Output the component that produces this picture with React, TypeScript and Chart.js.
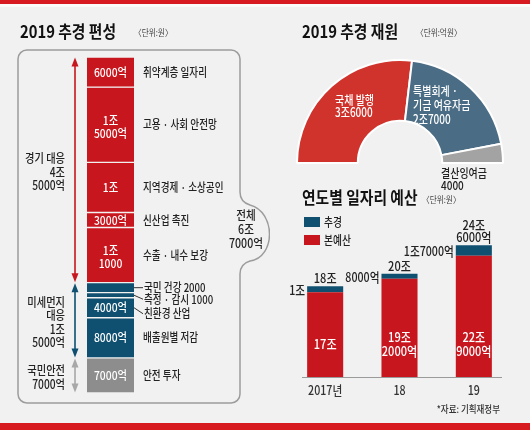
import React, { useEffect, useRef } from 'react';
import { Chart, registerables } from 'chart.js';
Chart.register(...registerables);

const BG = '#f1f1f1';
const RED = '#c8161e';
const BLUE = '#0f5070';
const GRAY = '#8d8d8d';
const FONT = '"Noto Sans CJK KR", "Noto Sans", sans-serif';

// ---- 2019 추경 편성 (억원) ----
const segmentNames = ['취약계층 일자리', '고용 · 사회 안전망', '지역경제 · 소상공인', '신산업 촉진', '수출 · 내수 보강', '국민 건강 2000', '측정 · 감시 1000', '친환경 산업', '배출원별 저감', '안전 투자'];
const segmentValues = [6000, 15000, 10000, 3000, 11000, 2000, 1000, 4000, 8000, 7000];
const segmentGroups = [0, 0, 0, 0, 0, 1, 1, 1, 1, 2];
const segmentInnerLabels = ['6000억', '1조\n5000억', '1조', '3000억', '1조\n1000', '', '', '4000억', '8000억', '7000억'];
const segmentLeaderDy = [null, null, null, null, null, 0, 4, 6, null, null];
const groupNames = ['경기 대응\n4조\n5000억', '미세먼지\n대응\n1조\n5000억', '국민안전\n7000억'];
const groupColors = [RED, BLUE, GRAY];
const groupArrowColors = [RED, BLUE, '#a8a8a8'];
const totalLabel = '전체\n6조\n7000억';
const totalValue = 67000;

// ---- 2019 추경 재원 (억원) ----
const sourceNames = ['국채 발행', '특별회계 · 기금 여유자금', '결산잉여금'];
const sourceValues = [36000, 27000, 4000];
const sourceLabels = ['국채 발행\n3조6000', '특별회계 ·\n기금 여유자금\n2조7000', '결산잉여금\n4000'];
const sourceColors = ['#d0332c', '#4a6c84', '#a3a3a3'];

// ---- 연도별 일자리 예산 (조원) ----
const years = ['2017년', '18', '19'];
const baseBudget = [17, 19.2, 22.9];
const supplementary = [1, 0.8, 1.7];
const baseLabels = ['17조', '19조\n2000억', '22조\n9000억'];
const suppLabels = ['1조', '8000억', '1조7000억'];
const totalLabels = ['18조', '20조', '24조\n6000억'];

type TO = { size?: number; weight?: string; color?: string; align?: CanvasTextAlign; sx?: number; lh?: number };
function txt(ctx: CanvasRenderingContext2D, s: string, x: number, y: number, o: TO = {}) {
  const size = o.size ?? 12;
  const lh = o.lh ?? size * 1.12;
  const lines = s.split('\n');
  ctx.save();
  ctx.font = `${o.weight ?? '500'} ${size}px ${FONT}`;
  ctx.fillStyle = o.color ?? '#222';
  ctx.textAlign = o.align ?? 'left';
  ctx.textBaseline = 'middle';
  const y0 = y - ((lines.length - 1) * lh) / 2;
  lines.forEach((l, i) => {
    ctx.save();
    ctx.translate(x, y0 + i * lh);
    ctx.scale(o.sx ?? 0.82, 1);
    ctx.fillText(l, 0, 0);
    ctx.restore();
  });
  ctx.restore();
}

function arrow(ctx: CanvasRenderingContext2D, x: number, y1: number, y2: number, color: string) {
  ctx.save();
  ctx.strokeStyle = color;
  ctx.fillStyle = color;
  ctx.lineWidth = 1.6;
  ctx.beginPath();
  ctx.moveTo(x, y1 + 6);
  ctx.lineTo(x, y2 - 6);
  ctx.stroke();
  ctx.beginPath();
  ctx.moveTo(x, y1);
  ctx.lineTo(x - 3.5, y1 + 9);
  ctx.lineTo(x + 3.5, y1 + 9);
  ctx.closePath();
  ctx.fill();
  ctx.beginPath();
  ctx.moveTo(x, y2);
  ctx.lineTo(x - 3.5, y2 - 9);
  ctx.lineTo(x + 3.5, y2 - 9);
  ctx.closePath();
  ctx.fill();
  ctx.restore();
}

const leftPlugin = {
  id: 'leftDeco',
  beforeDraw(chart: any) {
    const ctx = chart.ctx as CanvasRenderingContext2D;
    ctx.save();
    ctx.strokeStyle = '#9c9c9c';
    ctx.lineWidth = 1.5;
    const L = 18, T = 50, R = 240, B = 403, r = 9;
    ctx.beginPath();
    ctx.moveTo(L + r, T);
    ctx.lineTo(R - r, T);
    ctx.arcTo(R, T, R, T + r, r);
    ctx.lineTo(R, 192);
    ctx.quadraticCurveTo(R, 202, 250, 205);
    ctx.bezierCurveTo(276, 212, 276, 257, 250, 261);
    ctx.quadraticCurveTo(R, 264, R, 274);
    ctx.lineTo(R, B - r);
    ctx.arcTo(R, B, R - r, B, r);
    ctx.lineTo(L + r, B);
    ctx.arcTo(L, B, L, B - r, r);
    ctx.lineTo(L, T + r);
    ctx.arcTo(L, T, L + r, T, r);
    ctx.closePath();
    ctx.stroke();
    ctx.restore();
    txt(ctx, '2019 추경 편성', 20, 32, { size: 17, weight: '700', color: '#111', sx: 0.87 });
    txt(ctx, '〈단위:원〉', 134, 33, { size: 9, weight: '400', color: '#444', sx: 0.85 });
  },
  afterDatasetsDraw(chart: any) {
    const ctx = chart.ctx as CanvasRenderingContext2D;
    const rects = segmentValues.map((_, i) => {
      const m = chart.getDatasetMeta(i).data[0].getProps(['x', 'y', 'base', 'width'], true);
      return { top: Math.min(m.y, m.base), bottom: Math.max(m.y, m.base), x: m.x, right: m.x + m.width / 2 };
    });
    rects.forEach((rc, i) => {
      const cy = (rc.top + rc.bottom) / 2;
      if (segmentInnerLabels[i]) {
        const multi = segmentInnerLabels[i].includes('\n');
        txt(ctx, segmentInnerLabels[i], rc.x, cy + (multi ? 2 : 0), { size: 12, color: '#fff', align: 'center', sx: 0.86, lh: 13.5 });
      }
      const dy = segmentLeaderDy[i];
      if (dy !== null) {
        ctx.save();
        ctx.strokeStyle = '#333';
        ctx.lineWidth = 1;
        ctx.beginPath();
        ctx.moveTo(rc.right, cy);
        ctx.lineTo(143, cy + dy);
        ctx.stroke();
        ctx.restore();
        txt(ctx, segmentNames[i], 144, cy + dy, { size: 12, color: '#222', sx: 0.8 });
      } else {
        txt(ctx, segmentNames[i], 143, cy, { size: 12, color: '#222', sx: 0.8 });
      }
    });
    groupNames.forEach((g, gi) => {
      const idx = segmentGroups.map((s, i) => (s === gi ? i : -1)).filter((i) => i >= 0);
      const top = Math.min(...idx.map((i) => rects[i].top));
      const bottom = Math.max(...idx.map((i) => rects[i].bottom));
      arrow(ctx, 75, top + 0.5, bottom - 0.5, groupArrowColors[gi]);
      txt(ctx, g, 65, (top + bottom) / 2 + 2, { size: 12.5, color: '#222', align: 'right', sx: 0.82, lh: 13.5 });
    });
    txt(ctx, totalLabel, 246, 229, { size: 12.5, color: '#222', align: 'center', sx: 0.85, lh: 14 });
  },
};

const donutPlugin = {
  id: 'donutDeco',
  beforeDraw(chart: any) {
    const ctx = chart.ctx as CanvasRenderingContext2D;
    txt(ctx, '2019 추경 재원', 32, 32, { size: 17, weight: '700', color: '#111', sx: 0.87 });
    txt(ctx, '〈단위:억원〉', 146, 33, { size: 9, weight: '400', color: '#444', sx: 0.85 });
  },
  afterDatasetsDraw(chart: any) {
    const ctx = chart.ctx as CanvasRenderingContext2D;
    const a = chart.getDatasetMeta(0).data[0];
    const cx = a.x, cy = a.y;
    txt(ctx, sourceLabels[0], cx - 65, cy - 57, { size: 12.5, color: '#fff', sx: 0.8, lh: 12.5 });
    txt(ctx, sourceLabels[1], cx + 13, cy - 58, { size: 12.5, color: '#fff', sx: 0.8, lh: 14 });
    txt(ctx, sourceLabels[2], cx + 41, cy + 16, { size: 12.5, color: '#222', sx: 0.8, lh: 12.5 });
  },
};

const barPlugin = {
  id: 'barDeco',
  beforeDraw(chart: any) {
    const ctx = chart.ctx as CanvasRenderingContext2D;
    txt(ctx, '연도별 일자리 예산', 32, 18, { size: 17, weight: '700', color: '#111', sx: 0.87 });
    txt(ctx, '〈단위:원〉', 152, 20, { size: 9, weight: '400', color: '#444', sx: 0.85 });
    ctx.save();
    ctx.fillStyle = BLUE;
    ctx.fillRect(34, 37, 16, 10);
    ctx.fillStyle = RED;
    ctx.fillRect(34, 55, 16, 10);
    ctx.restore();
    txt(ctx, '추경', 54, 42, { size: 12.5, color: '#222', sx: 0.78 });
    txt(ctx, '본예산', 54, 60, { size: 12.5, color: '#222', sx: 0.78 });
  },
  afterDatasetsDraw(chart: any) {
    const ctx = chart.ctx as CanvasRenderingContext2D;
    const ys = chart.scales.y;
    const base = ys.getPixelForValue(ys.min);
    ctx.save();
    ctx.strokeStyle = '#9a9a9a';
    ctx.lineWidth = 1;
    ctx.beginPath();
    ctx.moveTo(32, base + 0.5);
    ctx.lineTo(232, base + 0.5);
    ctx.stroke();
    ctx.restore();
    years.forEach((yr, i) => {
      const b = chart.getDatasetMeta(0).data[i].getProps(['x', 'y', 'width'], true);
      const s = chart.getDatasetMeta(1).data[i].getProps(['x', 'y', 'base', 'width'], true);
      txt(ctx, baseLabels[i], b.x, base - 33, { size: 13, color: '#fff', align: 'center', sx: 0.85, lh: 14 });
      txt(ctx, suppLabels[i], s.x - s.width / 2 - 2, (s.y + s.base) / 2 + 1, { size: 13, color: '#222', align: 'right', sx: 0.82 });
      const lines = totalLabels[i].split('\n').length;
      txt(ctx, totalLabels[i], s.x, s.y - 8 - ((lines - 1) * 12) / 2, { size: 13, color: '#222', align: 'center', sx: 0.85, lh: 12 });
      txt(ctx, yr, b.x, base + 13, { size: 13, color: '#333', align: 'center', sx: 0.82 });
    });
    txt(ctx, '*자료: 기획재정부', 230, base + 32, { size: 10, color: '#333', align: 'right', sx: 0.85 });
  },
};

export default function App() {
  const aRef = useRef<HTMLCanvasElement>(null);
  const bRef = useRef<HTMLCanvasElement>(null);
  const cRef = useRef<HTMLCanvasElement>(null);

  useEffect(() => {
    const charts: Chart[] = [];
    charts.push(
      new Chart(aRef.current!, {
        type: 'bar',
        data: {
          labels: ['2019'],
          datasets: segmentValues.map((v, i) => ({
            label: segmentNames[i],
            data: [v],
            backgroundColor: groupColors[segmentGroups[i]],
            borderColor: BG,
            borderWidth: { top: 1, bottom: 1, left: 0, right: 0 },
            borderSkipped: false,
            barPercentage: 1,
            categoryPercentage: 1,
          })),
        },
        options: {
          responsive: false,
          animation: false,
          layout: { padding: { left: 87, right: 136, top: 57, bottom: 37 } },
          plugins: { legend: { display: false }, tooltip: { enabled: false } },
          scales: {
            x: { stacked: true, display: false },
            y: { stacked: true, display: false, reverse: true, min: 0, max: totalValue },
          },
        } as any,
        plugins: [leftPlugin],
      })
    );
    charts.push(
      new Chart(bRef.current!, {
        type: 'doughnut',
        data: {
          labels: sourceNames,
          datasets: [{ data: sourceValues, backgroundColor: sourceColors, borderColor: '#ffffff', borderWidth: 2 }],
        },
        options: {
          responsive: false,
          animation: false,
          rotation: -90,
          circumference: 180,
          cutout: '41%',
          layout: { padding: { left: 26, right: 26, top: 59, bottom: 36 } },
          plugins: { legend: { display: false }, tooltip: { enabled: false } },
        } as any,
        plugins: [donutPlugin],
      })
    );
    charts.push(
      new Chart(cRef.current!, {
        type: 'bar',
        data: {
          labels: years,
          datasets: [
            { label: '본예산', data: baseBudget, backgroundColor: RED, barPercentage: 1, categoryPercentage: 0.485 },
            { label: '추경', data: supplementary, backgroundColor: BLUE, barPercentage: 1, categoryPercentage: 0.485 },
          ],
        },
        options: {
          responsive: false,
          animation: false,
          layout: { padding: { left: 18, right: 19, top: 50, bottom: 45 } },
          plugins: { legend: { display: false }, tooltip: { enabled: false } },
          scales: {
            x: { stacked: true, display: false },
            y: { stacked: true, display: false, min: 3.35, max: 27.06 },
          },
        } as any,
        plugins: [barPlugin],
      })
    );
    return () => charts.forEach((c) => c.destroy());
  }, []);

  return (
    <div style={{ position: 'fixed', left: 0, top: 0, width: 530, height: 430, background: BG, overflow: 'hidden' }}>
      <div style={{ position: 'absolute', left: 0, top: 0, width: 530, height: 4, background: '#d71920' }} />
      <div style={{ position: 'absolute', left: 0, top: 4, width: 530, height: 3, background: '#fafafa' }} />
      <div style={{ position: 'absolute', left: 0, top: 423, width: 530, height: 7, background: '#d71920' }} />
      <canvas ref={aRef} width={270} height={430} style={{ position: 'absolute', left: 0, top: 0 }} />
      <canvas ref={bRef} width={260} height={200} style={{ position: 'absolute', left: 270, top: 0 }} />
      <canvas ref={cRef} width={260} height={242} style={{ position: 'absolute', left: 270, top: 180 }} />
    </div>
  );
}
